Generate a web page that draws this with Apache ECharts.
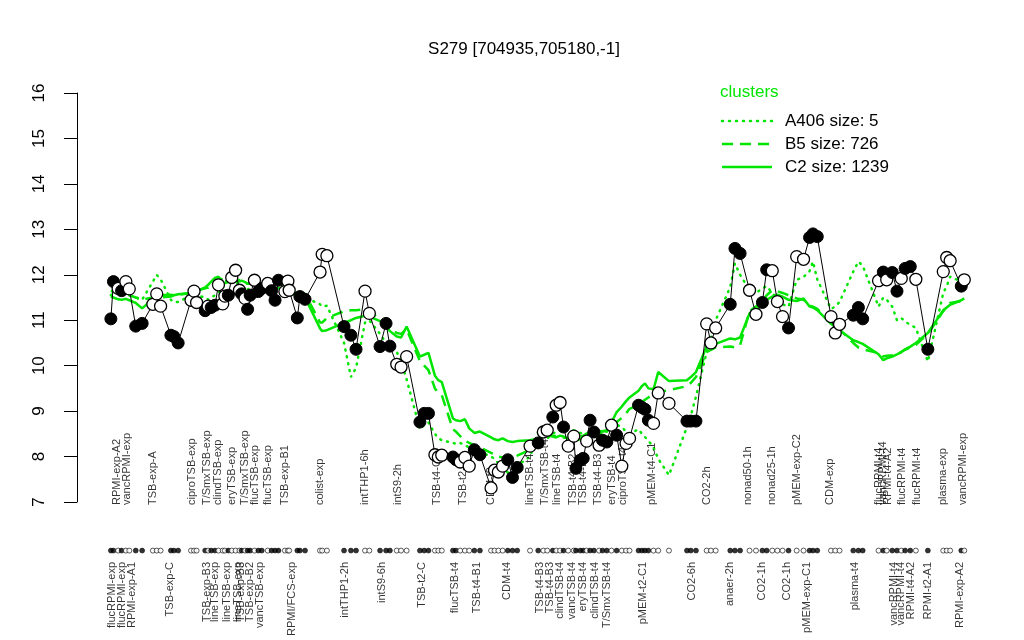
<!DOCTYPE html>
<html>
<head>
<meta charset="utf-8">
<script src="https://cdn.jsdelivr.net/npm/echarts@6/dist/echarts.min.js"></script>
<style>
  html, body { margin: 0; padding: 0; background: #fff; }
  #chart { width: 1024px; height: 640px; }
</style>
</head>
<body>
<div id="chart"></div>
<script>
// sample positions along the x axis
var pos = [
  7.9, 8.5, 9.6, 10.4, 11.4, 12.2, 13.7, 15.2, 17.7, 18.6,
  19.5, 21.9, 22.6, 23.6, 26.6, 27.3, 27.9, 29.9, 30.6, 31.3,
  32.2, 33.0, 34.0, 34.5, 35.3, 36.1, 37.0, 37.9, 38.4, 39.2,
  39.8, 40.4, 41.4, 42.3, 43.1, 44.5, 45.4, 46.2, 47.0, 48.5,
  49.2, 49.5, 51.4, 52.0, 53.2, 56.7, 57.2, 58.3, 62.3, 63.9,
  65.1, 67.2, 68.2, 70.7, 72.1, 73.0, 74.6, 75.6, 76.9, 80.0,
  81.0, 82.0, 83.5, 84.3, 85.1, 87.7, 88.4, 89.4, 90.5, 91.5,
  92.7, 94.0, 96.6, 97.4, 98.3, 99.3, 100.5, 101.6, 102.7, 105.7,
  107.6, 108.8, 109.7, 111.0, 111.8, 112.7, 113.5, 114.6, 115.9, 116.4,
  117.4, 118.1, 118.9, 119.7, 120.6, 121.8, 122.6, 123.6, 124.7, 125.9,
  127.1, 128.1, 128.9, 131.0, 131.8, 132.5, 133.3, 134.5, 135.6, 138.1,
  142.3, 143.2, 144.4, 146.9, 147.9, 149.0, 152.4, 153.5, 154.7, 156.9,
  158.4, 159.9, 160.9, 162.2, 163.4, 164.6, 166.0, 167.9, 169.5, 170.9,
  171.7, 172.7, 175.9, 176.9, 177.9, 181.1, 182.3, 183.3, 187.0, 188.1,
  188.9, 190.2, 191.3, 192.3, 193.2, 194.4, 195.7, 198.5, 202.1, 202.9,
  203.7, 206.3, 207.0
];
// expression of S279
var expr = [
  11.03, 11.85, 11.70, 11.65, 11.85, 11.69, 10.87, 10.93, 11.35, 11.58,
  11.31, 10.67, 10.64, 10.50, 11.44, 11.64, 11.39, 11.21, 11.31, 11.28,
  11.33, 11.78, 11.36, 11.53, 11.55, 11.94, 12.10, 11.66, 11.58, 11.48,
  11.24, 11.55, 11.88, 11.63, 11.70, 11.81, 11.65, 11.44, 11.88, 11.63,
  11.86, 11.66, 11.05, 11.52, 11.46, 12.06, 12.45, 12.42, 10.86, 10.67,
  10.36, 11.64, 11.15, 10.42, 10.93, 10.43, 10.03, 9.97, 10.20, 8.76,
  8.95, 8.95, 8.04, 7.99, 8.03, 7.99, 7.93, 7.88, 7.98, 7.79,
  8.15, 8.04, 7.31, 7.70, 7.66, 7.79, 7.93, 7.54, 7.76, 8.23,
  8.30, 8.54, 8.58, 8.87, 9.13, 9.19, 8.65, 8.23, 8.45, 7.74,
  7.92, 7.96, 8.34, 8.80, 8.54, 8.25, 8.36, 8.32, 8.69, 8.47,
  7.79, 8.29, 8.40, 9.13, 9.08, 9.04, 8.80, 8.73, 9.40, 9.17,
  8.78, 8.78, 8.78, 10.92, 10.50, 10.83, 11.35, 12.58, 12.47, 11.66,
  11.13, 11.39, 12.11, 12.09, 11.41, 11.08, 10.83, 12.40, 12.34, 12.82,
  12.90, 12.84, 11.08, 10.72, 10.91, 11.11, 11.28, 11.03, 11.87, 12.06,
  11.89, 12.05, 11.64, 11.92, 12.14, 12.18, 11.90, 10.36, 12.07, 12.38,
  12.31, 11.75, 11.89
];
// 1 = filled (black) point, 0 = open point
var filled = [
  1,1,0,1,0,0,1,1,0,0,
  0,1,1,1,0,0,0,1,0,1,
  1,0,0,0,1,0,0,0,1,0,
  1,1,0,1,1,0,1,1,1,0,
  0,0,1,1,1,0,0,0,1,1,
  1,0,0,1,1,1,0,0,0,1,
  1,1,0,0,0,1,1,0,0,0,
  1,1,0,0,0,0,1,1,1,0,
  1,0,0,1,0,0,1,0,0,1,
  1,1,0,1,1,0,1,1,0,1,
  0,0,0,1,1,1,1,0,0,0,
  1,1,1,0,0,0,1,1,1,0,
  0,1,1,0,0,0,1,0,0,1,
  1,1,0,0,0,1,1,1,0,1,
  0,1,1,0,1,1,0,1,0,0,
  0,1,0
];
// cluster profiles
var clusterA406 = [
  11.55, 11.60, 11.62, 11.60, 11.58, 11.55, 11.50, 11.45, 11.85, 12.00,
  11.90, 11.45, 11.40, 11.40, 11.55, 11.60, 11.55, 11.50, 11.45, 11.50,
  11.55, 11.60, 11.70, 11.85, 11.90, 11.92, 11.88, 11.72, 11.70, 11.65,
  11.68, 11.70, 11.65, 11.60, 11.62, 11.65, 11.60, 11.60, 11.62, 11.60,
  11.58, 11.60, 11.55, 11.50, 11.50, 11.35, 11.30, 11.32, 10.50, 9.75,
  9.95, 10.95, 11.00, 10.70, 10.50, 10.40, 10.30, 10.10, 9.70, 8.60,
  8.70, 8.75, 8.50, 8.40, 8.36, 8.30, 8.28, 8.30, 8.25, 8.20,
  8.12, 8.10, 8.00, 7.95, 7.85, 7.75, 7.65, 7.62, 7.80, 8.00,
  8.55, 8.50, 8.40, 8.50, 8.55, 8.58, 8.60, 8.60, 8.58, 8.55,
  8.52, 8.50, 8.48, 8.46, 8.45, 8.45, 8.50, 8.55, 8.60, 8.70,
  8.65, 8.55, 8.50, 8.60, 8.50, 8.43, 8.35, 8.20, 7.95, 7.59,
  8.65, 8.90, 9.32, 10.30, 10.60, 11.00, 11.73, 12.25, 12.00, 11.66,
  11.60, 11.70, 11.75, 11.60, 11.45, 11.35, 11.30, 11.89, 11.95, 12.08,
  12.29, 11.90, 11.25, 11.30, 11.40, 12.07, 12.29, 12.20, 11.30, 11.50,
  11.45, 11.30, 11.00, 11.05, 10.97, 10.90, 10.83, 10.09, 11.60, 11.75,
  11.96, 11.85, 11.80
];
var clusterB5 = [
  11.65, 11.62, 11.60, 11.58, 11.56, 11.55, 11.50, 11.45, 11.50, 11.48,
  11.50, 11.52, 11.55, 11.56, 11.60, 11.62, 11.65, 11.70, 11.72, 11.75,
  11.80, 11.92, 11.90, 11.88, 11.90, 11.92, 11.90, 11.88, 11.85, 11.82,
  11.80, 11.80, 11.78, 11.80, 11.82, 11.80, 11.78, 11.75, 11.76, 11.74,
  11.72, 11.72, 11.66, 11.62, 11.58, 10.95, 10.95, 11.05, 11.20, 11.22,
  11.22, 11.24, 11.22, 11.00, 10.85, 10.80, 10.72, 10.70, 10.80, 10.10,
  10.00, 9.90, 9.50, 9.40, 9.35, 8.60, 8.55, 8.45, 8.35, 8.30,
  8.25, 8.20, 8.08, 8.05, 8.00, 7.98, 7.96, 7.98, 8.02, 8.15,
  8.30, 8.45, 8.48, 8.46, 8.45, 8.44, 8.42, 8.40, 8.40, 8.42,
  8.44, 8.46, 8.48, 8.48, 8.50, 8.50, 8.55, 8.56, 8.65, 8.76,
  8.85, 8.95, 9.05, 9.13, 9.20, 9.25, 9.30, 9.39, 9.42, 9.46,
  9.55, 9.62, 9.75, 10.30, 10.35, 10.40, 10.42, 10.40, 10.45, 11.20,
  11.30, 11.40, 11.55, 11.66, 11.64, 11.60, 11.55, 11.48, 11.45, 11.32,
  11.30, 11.25, 10.95, 10.88, 10.80, 10.50, 10.40, 10.36, 10.28, 10.20,
  10.22, 10.23, 10.25, 10.30, 10.35, 10.40, 10.46, 10.70, 11.20, 11.30,
  11.38, 11.42, 11.50
];
var clusterC2 = [
  11.52, 11.50, 11.46, 11.45, 11.47, 11.44, 11.38, 11.26, 11.47, 11.52,
  11.55, 11.56, 11.55, 11.57, 11.60, 11.62, 11.64, 11.72, 11.78, 11.85,
  11.93, 11.96, 11.80, 11.82, 11.84, 11.83, 11.86, 11.85, 11.87, 11.84,
  11.80, 11.82, 11.79, 11.78, 11.80, 11.74, 11.72, 11.70, 11.71, 11.67,
  11.66, 11.66, 11.60, 11.57, 11.50, 10.82, 10.76, 10.78, 10.94, 11.00,
  11.05, 11.10, 11.08, 10.98, 10.86, 10.76, 10.64, 10.62, 10.86, 10.20,
  10.24, 10.28, 9.78, 9.68, 9.64, 8.84, 8.80, 8.78, 8.82, 8.62,
  8.52, 8.55, 8.42, 8.38, 8.36, 8.40, 8.34, 8.32, 8.34, 8.36,
  8.40, 8.45, 8.47, 8.44, 8.42, 8.46, 8.44, 8.40, 8.38, 8.36,
  8.38, 8.45, 8.51, 8.52, 8.50, 8.55, 8.56, 8.58, 8.75, 8.98,
  9.10, 9.22, 9.30, 9.45, 9.55, 9.61, 9.50, 9.48, 9.86, 9.66,
  9.68, 9.75, 9.86, 10.42, 10.45, 10.48, 10.60, 10.58, 10.62, 11.15,
  11.22, 11.38, 11.45, 11.52, 11.56, 11.52, 11.45, 11.42, 11.48, 11.30,
  11.28, 11.22, 10.92, 10.85, 10.78, 10.56, 10.52, 10.48, 10.25, 10.12,
  10.16, 10.20, 10.25, 10.30, 10.36, 10.42, 10.50, 10.72, 11.22, 11.28,
  11.34, 11.44, 11.48
];
// sample labels above the strip
var topLabels = ['RPMI-exp-A2','vancRPMI-exp','TSB-exp-A','ciproTSB-exp','T/SmxTSB-exp','clindTSB-exp',
  'eryTSB-exp','T/SmxTSB-exp','flucTSB-exp','flucTSB-exp','TSB-exp-B1','colist-exp','intTHP1-6h',
  'intS9-2h','TSB-t4-C','TSB-t2-B1','CDM-t2','lineTSB-t4','T/SmxTSB-t4','lineTSB-t4','TSB-t4-B2',
  'TSB-t4-B2','TSB-t4-B3','eryTSB-t4','ciproTSB-t4','pMEM-t4-C1','CO2-2h','nonad50-1h','nonad25-1h',
  'pMEM-exp-C2','CDM-exp','flucRPMI-t4','vancRPMI-t4','RPMI-t4-A2','flucRPMI-t4','flucRPMI-t4',
  'plasma-exp','vancRPMI-exp'];
var topLabelPos = [9.3, 11.7, 17.7, 26.8, 30.3, 32.9, 36.2, 39.2, 41.5, 44.6, 48.5, 56.7, 67.2,
  74.9, 84.0, 90.1, 96.6, 105.7, 109.2, 112.0, 115.7, 118.1, 121.6, 124.8, 127.4, 134.2, 147.0,
  156.6, 162.2, 168.0, 175.7, 187.1, 188.0, 189.2, 192.5, 196.0, 202.1, 206.7];
// sample labels below the strip
var bottomLabels = ['flucRPMI-exp','flucRPMI-exp','RPMI-exp-A1','TSB-exp-C','TSB-exp-B3','lineTSB-exp',
  'lineTSB-exp','lineTSB-exp','TSB-exp-B3','TSB-exp-B2','vancTSB-exp','RPMI/FCS-exp','intTHP1-2h',
  'intS9-6h','TSB-t2-C','flucTSB-t4','TSB-t4-B1','CDM-t4','TSB-t4-B3','TSB-t4-B3','clindTSB-t4',
  'vancTSB-t4','eryTSB-t4','clindTSB-t4','T/SmxTSB-t4','pMEM-t2-C1','CO2-6h','anaer-2h','CO2-1h',
  'CO2-1h','pMEM-exp-C1','plasma-t4','vancRPMI-t4','vancRPMI-t4','RPMI-t4-A2','RPMI-t2-A1','RPMI-exp-A2'];
var bottomLabelPos = [8.2, 10.5, 12.8, 21.7, 30.3, 32.2, 35.0, 37.6, 38.3, 40.4, 42.7, 50.2, 62.5,
  71.2, 80.5, 88.2, 93.3, 100.3, 108.0, 110.4, 112.7, 115.5, 118.1, 120.9, 123.7, 132.1, 143.5,
  152.4, 159.8, 165.7, 170.3, 181.5, 190.6, 192.3, 194.6, 198.6, 206.0];
var yTicks = [7, 8, 9, 10, 11, 12, 13, 14, 15, 16];

var GREEN = '#00e600';
var FONT = 'Liberation Sans, Arial, sans-serif';
var STRIP_Y = 0.2;

function zip(ys) {
  return pos.map(function (p, i) { return [p, ys[i]]; });
}

var pointData = pos.map(function (p, i) {
  return {
    value: [p, expr[i]],
    itemStyle: filled[i] ? { color: '#000', borderColor: '#000', borderWidth: 1 }
                         : { color: '#fff', borderColor: '#000', borderWidth: 1.3 }
  };
});
var stripData = pos.map(function (p, i) {
  return {
    value: [p, STRIP_Y],
    itemStyle: filled[i] ? { color: '#000', borderColor: '#000', borderWidth: 0.6 }
                         : { color: '#fff', borderColor: '#000', borderWidth: 0.8 }
  };
});
var topData = topLabels.map(function (t, i) { return { name: t, value: [topLabelPos[i], 1] }; });
var bottomData = bottomLabels.map(function (t, i) { return { name: t, value: [bottomLabelPos[i], 0] }; });

var chart = echarts.init(document.getElementById('chart'));
chart.setOption({
  animation: false,
  backgroundColor: '#fff',
  title: {
    text: 'S279 [704935,705180,-1]',
    left: 519, top: 36, textAlign: 'center',
    textStyle: { fontFamily: FONT, fontSize: 17, fontWeight: 'normal', color: '#000' }
  },
  grid: [
    { left: 77, right: 34, top: 93, height: 409 },
    { left: 77, right: 34, top: 505, height: 57 }
  ],
  xAxis: [
    { type: 'value', gridIndex: 0, min: 0, max: 213, show: false },
    { type: 'value', gridIndex: 1, min: 0, max: 213, show: false }
  ],
  yAxis: [
    {
      type: 'value', gridIndex: 0, min: 7, max: 16, interval: 1,
      axisLine: { show: true, lineStyle: { color: '#000', width: 1 } },
      axisTick: { show: true, length: 13, lineStyle: { color: '#000' } },
      splitLine: { show: false },
      axisLabel: {
        rotate: 90, margin: 29, fontSize: 17, color: '#000', fontFamily: FONT,
        formatter: function (v) { return yTicks.indexOf(v) >= 0 ? String(v) : ''; }
      }
    },
    { type: 'value', gridIndex: 1, min: 0, max: 1, show: false }
  ],
  graphic: [
    { type: 'text', left: 720, top: 84,
      style: { text: 'clusters', fill: GREEN, font: '17px ' + FONT } },
    { type: 'line', shape: { x1: 722, y1: 121, x2: 772, y2: 121 },
      style: { stroke: GREEN, lineWidth: 2.5, lineDash: [1, 6], lineCap: 'round' } },
    { type: 'text', left: 785, top: 113,
      style: { text: 'A406 size: 5', fill: '#000', font: '17px ' + FONT } },
    { type: 'line', shape: { x1: 722, y1: 144, x2: 772, y2: 144 },
      style: { stroke: GREEN, lineWidth: 2.5, lineDash: [11, 7] } },
    { type: 'text', left: 785, top: 136,
      style: { text: 'B5 size: 726', fill: '#000', font: '17px ' + FONT } },
    { type: 'line', shape: { x1: 722, y1: 167, x2: 772, y2: 167 },
      style: { stroke: GREEN, lineWidth: 2.5 } },
    { type: 'text', left: 785, top: 159,
      style: { text: 'C2 size: 1239', fill: '#000', font: '17px ' + FONT } }
  ],
  series: [
    {
      name: 'A406 size: 5', type: 'line', data: zip(clusterA406), symbol: 'none',
      lineStyle: { color: GREEN, width: 2.5, type: [1, 6], cap: 'round' }, z: 2
    },
    {
      name: 'B5 size: 726', type: 'line', data: zip(clusterB5), symbol: 'none',
      lineStyle: { color: GREEN, width: 2.5, type: [11, 7] }, z: 2
    },
    {
      name: 'C2 size: 1239', type: 'line', data: zip(clusterC2), symbol: 'none',
      lineStyle: { color: GREEN, width: 2.5 }, z: 2
    },
    {
      name: 'S279', type: 'line', data: pointData, symbol: 'circle', symbolSize: 12,
      lineStyle: { color: '#000', width: 1 }, z: 3
    },
    {
      type: 'scatter', xAxisIndex: 1, yAxisIndex: 1, data: stripData,
      symbol: 'circle', symbolSize: 5, clip: false
    },
    {
      type: 'scatter', xAxisIndex: 1, yAxisIndex: 1, data: topData, symbolSize: 0, clip: false,
      label: {
        show: true, position: 'inside', rotate: 90, align: 'left', verticalAlign: 'middle',
        formatter: '{b}', fontSize: 11, color: '#000', fontFamily: FONT
      }
    },
    {
      type: 'scatter', xAxisIndex: 1, yAxisIndex: 1, data: bottomData, symbolSize: 0, clip: false,
      label: {
        show: true, position: 'inside', rotate: 90, align: 'right', verticalAlign: 'middle',
        formatter: '{b}', fontSize: 11, color: '#000', fontFamily: FONT
      }
    }
  ]
});
</script>
</body>
</html>
